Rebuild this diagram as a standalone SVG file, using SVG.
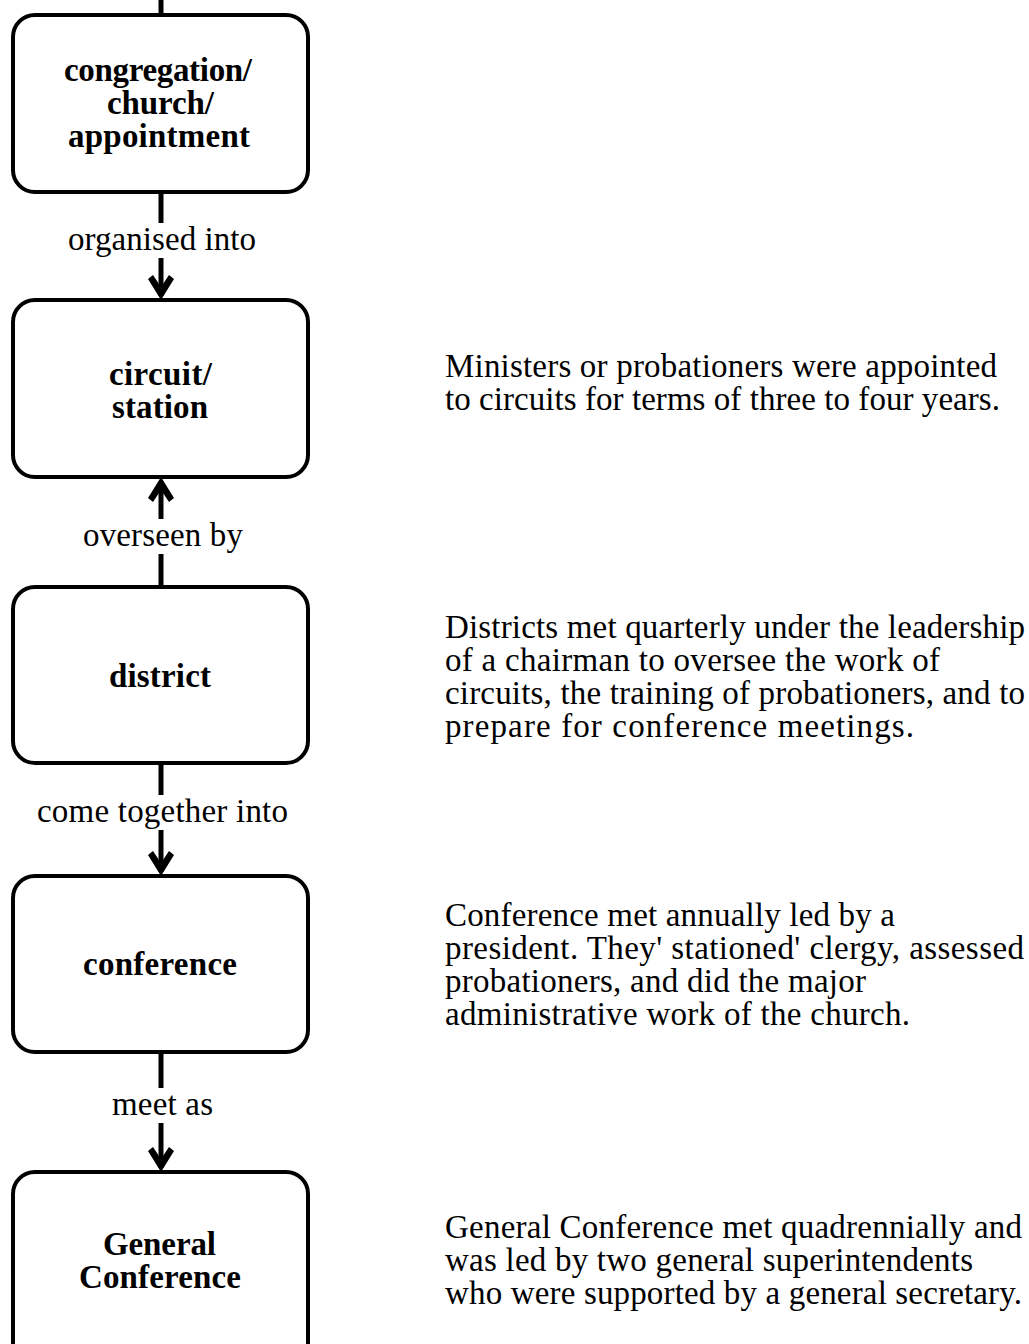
<svg xmlns="http://www.w3.org/2000/svg" width="1029" height="1344" viewBox="0 0 1029 1344">
<defs>
<style>
.box{fill:#fff;stroke:#000;stroke-width:4}
.nt{font-family:"Liberation Serif",serif;font-weight:bold;font-size:33px;fill:#000}
.lbl{font-family:"Liberation Serif",serif;font-size:33px;fill:#000}
.desc{font-family:"Liberation Serif",serif;font-size:33px;fill:#000}
.ln{stroke:#000;stroke-width:5;fill:none}
.bg{fill:#fff}
</style>
</defs>
<rect width="1029" height="1344" fill="#fff"/>
<g id="connectors">
<line class="ln" x1="161" y1="0" x2="161" y2="15"/>
<path class="ln" d="M161,192 V296"/>
<path class="ln" d="M161,587 V481"/>
<path class="ln" d="M161,763 V872"/>
<path class="ln" d="M161,1052 V1168"/>
<g>
<path d="M161,300 L148,279 L153,275 L161,287 L169,275 L174,279 Z" fill="#000"/>
<path d="M161,477 L148,498 L153,502 L161,490 L169,502 L174,498 Z" fill="#000"/>
<path d="M161,876 L148,855 L153,851 L161,863 L169,851 L174,855 Z" fill="#000"/>
<path d="M161,1172 L148,1151 L153,1147 L161,1159 L169,1147 L174,1151 Z" fill="#000"/>
</g>
<rect class="bg" x="62" y="223" width="200" height="35"/>
<text class="lbl" x="68" y="250" textLength="188" lengthAdjust="spacing">organised into</text>
<rect class="bg" x="77" y="519" width="172" height="35"/>
<text class="lbl" x="83" y="546" textLength="160" lengthAdjust="spacing">overseen by</text>
<rect class="bg" x="31" y="795" width="263" height="35"/>
<text class="lbl" x="37" y="822" textLength="251" lengthAdjust="spacing">come together into</text>
<rect class="bg" x="106" y="1088" width="113" height="35"/>
<text class="lbl" x="112" y="1115" textLength="101" lengthAdjust="spacing">meet as</text>
</g>
<g id="node-congregation">
<rect class="box" x="13" y="15" width="295" height="177" rx="22"/>
<text class="nt" x="64" y="81" textLength="188" lengthAdjust="spacing">congregation/</text>
<text class="nt" x="107" y="114" textLength="107" lengthAdjust="spacing">church/</text>
<text class="nt" x="68" y="147" textLength="182" lengthAdjust="spacing">appointment</text>
</g>
<g id="node-circuit">
<rect class="box" x="13" y="300" width="295" height="177" rx="22"/>
<text class="nt" x="109" y="385" textLength="103" lengthAdjust="spacing">circuit/</text>
<text class="nt" x="112" y="418" textLength="96" lengthAdjust="spacing">station</text>
</g>
<g id="node-district">
<rect class="box" x="13" y="587" width="295" height="176" rx="22"/>
<text class="nt" x="109" y="687" textLength="102" lengthAdjust="spacing">district</text>
</g>
<g id="node-conference">
<rect class="box" x="13" y="876" width="295" height="176" rx="22"/>
<text class="nt" x="83" y="975" textLength="154" lengthAdjust="spacing">conference</text>
</g>
<g id="node-general-conference">
<rect class="box" x="13" y="1172" width="295" height="200" rx="22"/>
<text class="nt" x="103" y="1255" textLength="113" lengthAdjust="spacing">General</text>
<text class="nt" x="79" y="1288" textLength="162" lengthAdjust="spacing">Conference</text>
</g>
<g id="desc-circuit">
<text class="desc" x="445" y="377" textLength="552" lengthAdjust="spacing">Ministers or probationers were appointed</text>
<text class="desc" x="445" y="410" textLength="555" lengthAdjust="spacing">to circuits for terms of three to four years.</text>
</g>
<g id="desc-district">
<text class="desc" x="445" y="638" textLength="580" lengthAdjust="spacing">Districts met quarterly under the leadership</text>
<text class="desc" x="445" y="671" textLength="495" lengthAdjust="spacing">of a chairman to oversee the work of</text>
<text class="desc" x="445" y="704" textLength="580" lengthAdjust="spacing">circuits, the training of probationers, and to</text>
<text class="desc" x="445" y="737" textLength="469" lengthAdjust="spacing">prepare for conference meetings.</text>
</g>
<g id="desc-conference">
<text class="desc" x="445" y="926" textLength="450" lengthAdjust="spacing">Conference met annually led by a</text>
<text class="desc" x="445" y="959" textLength="579" lengthAdjust="spacing">president.  They' stationed' clergy, assessed</text>
<text class="desc" x="445" y="992" textLength="421" lengthAdjust="spacing">probationers, and did the major</text>
<text class="desc" x="445" y="1025" textLength="465" lengthAdjust="spacing">administrative work of the church.</text>
</g>
<g id="desc-general">
<text class="desc" x="445" y="1238" textLength="577" lengthAdjust="spacing">General Conference met quadrennially and</text>
<text class="desc" x="445" y="1271" textLength="528" lengthAdjust="spacing">was led by two general superintendents</text>
<text class="desc" x="445" y="1304" textLength="577" lengthAdjust="spacing">who were supported by a general secretary.</text>
</g>
</svg>
